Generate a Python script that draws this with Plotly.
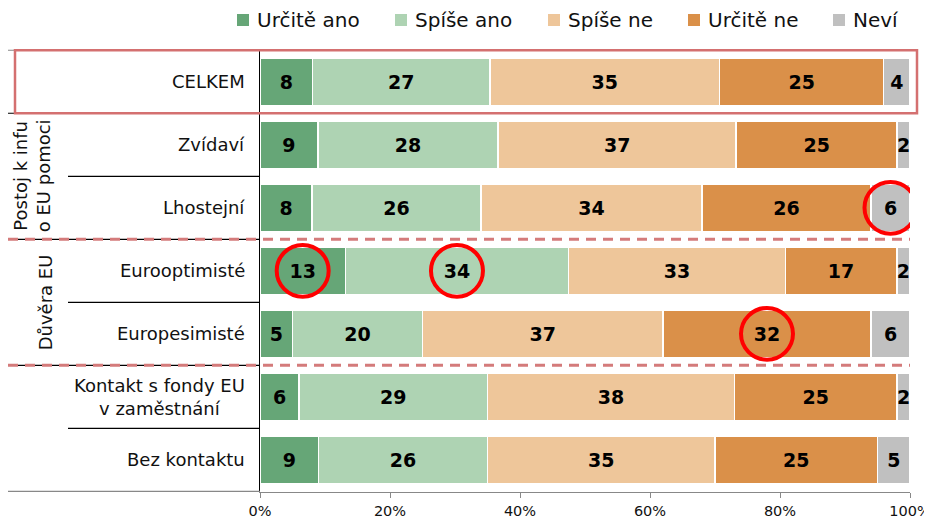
import plotly.graph_objects as go

categories = ["CELKEM", "Zvídaví", "Lhostejní", "Eurooptimisté", "Europesimisté",
              "Kontakt s fondy EU<br>v zaměstnání", "Bez kontaktu"]
series_names = ["Určitě ano", "Spíše ano", "Spíše ne", "Určitě ne", "Neví"]
urcite_ano = [8, 9, 8, 13, 5, 6, 9]
spise_ano = [27, 28, 26, 34, 20, 29, 26]
spise_ne = [35, 37, 34, 33, 37, 38, 35]
urcite_ne = [25, 25, 26, 17, 32, 25, 25]
nevi = [4, 2, 6, 2, 6, 2, 5]
colors = ["#66A677", "#AED3B3", "#EEC69A", "#DA9049", "#C0C0C0"]
x_ticks = [0, 20, 40, 60, 80, 100]

groups = [("Postoj k infu<br>o EU pomoci", 1.5, 32), ("Důvěra EU", 3.5, 45)]
highlights = [("Lhostejní", "Neví"), ("Eurooptimisté", "Určitě ano"),
              ("Eurooptimisté", "Spíše ano"), ("Europesimisté", "Určitě ne")]

values = [urcite_ano, spise_ano, spise_ne, urcite_ne, nevi]
FONT = "DejaVu Sans, Verdana, sans-serif"

# page body has an 8px margin, so the figure is drawn from (8, 8)
OFF = 8
SW, SH = 932, 523
W, H = SW - OFF, SH - OFF
L, R, T, B = 260 - OFF, 22, 49 - OFF, 31
PW = W - L - R
PH = H - T - B
ROW = PH / len(categories)

def px_x(p):  # screen pixel -> paper x
    return (p - OFF - L) / PW

def px_y(p):  # screen pixel -> paper y
    return 1 - (p - OFF - T) / PH

fig = go.Figure()
for name, vals, col in zip(series_names, values, colors):
    fig.add_trace(go.Bar(
        y=categories, x=vals, name=name, orientation="h",
        marker=dict(color=col, line=dict(color="white", width=1.5)),
        text=vals, textposition="inside", insidetextanchor="middle",
        textangle=0, constraintext="none",
        textfont=dict(family=FONT, size=19, color="black", weight="bold"),
        hoverinfo="skip", showlegend=False,
    ))

shapes = []
seps = [(-0.5, 8, "#888888"), (0.5, 0, "black"), (1.5, 68, "black"), (2.5, 8, "black"),
        (3.5, 68, "black"), (4.5, 8, "black"), (5.5, 68, "black"), (6.5, 8, "#888888")]
for yv, xs, c in seps:
    shapes.append(dict(type="line", xref="paper", yref="y", x0=px_x(xs), x1=0,
                       y0=yv, y1=yv, line=dict(color=c, width=1.2), layer="above"))
for yv in (2.5, 4.5):
    shapes.append(dict(type="line", xref="paper", yref="y", x0=px_x(8), x1=1.0,
                       y0=yv, y1=yv, line=dict(color="#D47B7B", width=3, dash="10px,7px"),
                       layer="above"))
shapes.append(dict(type="rect", xref="paper", yref="y", x0=px_x(15), x1=px_x(917),
                   y0=-0.5, y1=0.5, line=dict(color="#D47070", width=2.5),
                   fillcolor="rgba(0,0,0,0)", layer="above"))
rx = 26 / PW * 100
ry = 26 / ROW
for cat, ser in highlights:
    i = categories.index(cat)
    k = series_names.index(ser)
    tot = sum(v[i] for v in values)
    start = sum(values[j][i] for j in range(k)) / tot * 100
    mid = start + values[k][i] / tot * 100 / 2
    shapes.append(dict(type="circle", xref="x", yref="y", x0=mid - rx, x1=mid + rx,
                       y0=i - ry, y1=i + ry, line=dict(color="#FF0000", width=4),
                       layer="above"))

annotations = []
# legend (custom, to match spacing of the reference)
legend_left = [237, 395, 548, 688, 833]
for name, col, lx in zip(series_names, colors, legend_left):
    shapes.append(dict(type="rect", xref="paper", yref="paper",
                       x0=px_x(lx), x1=px_x(lx + 12), y0=px_y(26), y1=px_y(14),
                       fillcolor=col, line=dict(width=0)))
    annotations.append(dict(x=px_x(lx + 18), y=px_y(20), xref="paper", yref="paper",
                            text=name, showarrow=False, xanchor="left", yanchor="middle",
                            font=dict(family=FONT, size=20, color="#111111")))

for c in categories:
    annotations.append(dict(x=px_x(247), y=c, xref="paper", yref="y", text=c,
                            showarrow=False, xanchor="right", align="center",
                            font=dict(family=FONT, size=18, color="#111111")))
for txt, yv, xc in groups:
    annotations.append(dict(x=px_x(xc), y=yv, xref="paper", yref="y", text=txt,
                            showarrow=False, textangle=-90, xanchor="center",
                            yanchor="middle", align="center",
                            font=dict(family=FONT, size=18, color="#111111")))

fig.update_layout(
    width=W, height=H,
    margin=dict(l=L, r=R, t=T, b=B, pad=0, autoexpand=False),
    barmode="stack", barnorm="percent", bargap=0.25,
    plot_bgcolor="white", paper_bgcolor="white",
    font=dict(family=FONT, color="#111111"),
    showlegend=False,
    xaxis=dict(range=[0, 100], tickvals=x_ticks, ticktext=[f"{t}%" for t in x_ticks],
               showgrid=False, zeroline=False, showline=True, linecolor="#888888",
               linewidth=1.2, ticks="outside", ticklen=5, tickcolor="#888888",
               ticklabeloverflow="allow",
               tickfont=dict(family=FONT, size=14.5, color="#111111")),
    yaxis=dict(autorange="reversed", showticklabels=False, ticks="", showgrid=False,
               zeroline=False, showline=True, linecolor="black", linewidth=1.2),
    shapes=shapes, annotations=annotations,
)

fig.write_html("out.html")
